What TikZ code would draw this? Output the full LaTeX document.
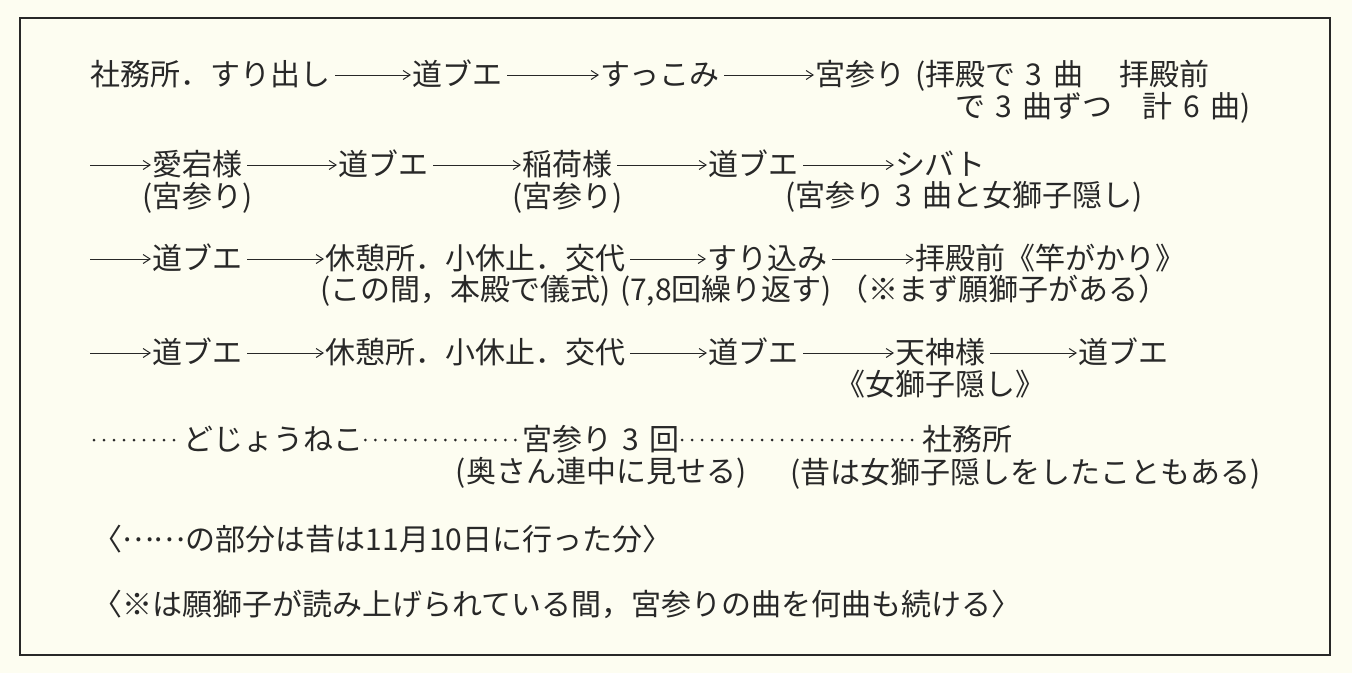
\documentclass[tikz,border=0pt]{standalone}
\usepackage{fontspec}
\setmainfont{Noto Sans CJK JP}
\usetikzlibrary{arrows.meta,positioning}
\definecolor{paper}{RGB}{253,253,241}
\definecolor{ink}{RGB}{40,40,40}
\newcommand{\dsp}{\hspace{0.35em}}
\tikzset{
  word/.style={anchor=west, inner sep=0pt, text height=25.5pt, text depth=3.6pt,
    text=ink, font=\fontsize{30}{36}\selectfont},
  flow/.style={draw=ink, line width=1pt, shorten <=5pt, shorten >=1pt,
    -{Straight Barb[length=7pt,width=9pt]}},
  leader/.style={draw=ink, line width=3pt, line cap=round,
    dash pattern=on 0pt off 10pt, shorten <=2pt, shorten >=3pt}
}
\begin{document}
\begin{tikzpicture}[x=1pt, y=1pt]
\fill[paper] (0,0) rectangle (1352,-673);
\useasboundingbox (0,0) rectangle (1352,-673);
% frame
\draw[ink, line width=1.8pt] (20,-18) rectangle (1330,-655);

% first line
\node[word] (start) at (90,-75) {社務所．すり出し};
\node[word] (michi1) at (412,-75) {道ブエ};
\node[word] (sukkomi) at (600,-75) {すっこみ};
\node[word] (miya1) at (815,-75) {宮参り};
\node[word] (kyoku1) at (915,-75) {(拝殿で\dsp 3\dsp 曲　\hspace{0.2em}拝殿前};
\node[word] (kyoku2) at (955,-107) {で\dsp 3\dsp 曲ずつ　計\dsp 6\dsp 曲)};
\draw[flow] (start.east) -- (michi1.west);
\draw[flow] (michi1.east) -- (sukkomi.west);
\draw[flow] (sukkomi.east) -- (miya1.west);

% second line
\coordinate (in2) at (90,-165);
\node[word] (atago) at (152,-165) {愛宕様};
\node[word] (michi2) at (338,-165) {道ブエ};
\node[word] (inari) at (522,-165) {稲荷様};
\node[word] (michi3) at (708,-165) {道ブエ};
\node[word] (shibato) at (895,-165) {シバト};
\node[word, below=2pt of atago] (atagomiya) {(宮参り)};
\node[word, below=2pt of inari] (inarimiya) {(宮参り)};
\node[word] (shibatomiya) at (785,-196) {(宮参り\dsp 3\dsp 曲と女獅子隠し)};
\draw[flow, shorten <=0pt] (in2) -- (atago.west);
\draw[flow] (atago.east) -- (michi2.west);
\draw[flow] (michi2.east) -- (inari.west);
\draw[flow] (inari.east) -- (michi3.west);
\draw[flow] (michi3.east) -- (shibato.west);

% third line
\coordinate (in3) at (90,-259);
\node[word] (michi4) at (152,-259) {道ブエ};
\node[word] (kyukei1) at (325,-259) {休憩所．小休止．交代};
\node[word] (surikomi) at (707,-259) {すり込み};
\node[word] (haiden) at (915,-259) {拝殿前《竿がかり》};
\node[word] (gishiki) at (320,-290) {(この間，本殿で儀式)};
\node[word] (kurikaesu) at (620,-290) {(7,8回繰り返す)};
\node[word] (negai) at (838,-290) {（※まず願獅子がある）};
\draw[flow, shorten <=0pt] (in3) -- (michi4.west);
\draw[flow] (michi4.east) -- (kyukei1.west);
\draw[flow] (kyukei1.east) -- (surikomi.west);
\draw[flow] (surikomi.east) -- (haiden.west);

% fourth line
\coordinate (in4) at (90,-353);
\node[word] (michi5) at (152,-353) {道ブエ};
\node[word] (kyukei2) at (325,-353) {休憩所．小休止．交代};
\node[word] (michi6) at (708,-353) {道ブエ};
\node[word] (tenjin) at (895,-353) {天神様};
\node[word] (michi7) at (1078,-353) {道ブエ};
\node[word, below=2pt of tenjin] (mejishi) {《女獅子隠し》};
\draw[flow, shorten <=0pt] (in4) -- (michi5.west);
\draw[flow] (michi5.east) -- (kyukei2.west);
\draw[flow] (kyukei2.east) -- (michi6.west);
\draw[flow] (michi6.east) -- (tenjin.west);
\draw[flow] (tenjin.east) -- (michi7.west);

% fifth line (dotted part)
\coordinate (in5) at (92,-440);
\node[word] (dojou) at (183,-440) {どじょうねこ};
\node[word] (miya3) at (522,-440) {宮参り\dsp 3\dsp 回};
\node[word] (shamusho) at (922,-440) {社務所};
\node[word, below=2pt of miya3] (okusan) {(奥さん連中に見せる)};
\node[word] (mukashi) at (790,-473) {(昔は女獅子隠しをしたこともある)};
\draw[leader] (in5) -- (dojou.west);
\draw[leader] (dojou.east) -- (miya3.west);
\draw[leader] (miya3.east) -- (shamusho.west);

% notes
\node[word] (note1) at (92,-540) {〈\raisebox{0.3em}{……}の部分は昔は11月10日に行った分〉};
\node[word] (note2) at (92,-605) {〈※は願獅子が読み上げられている間，宮参りの曲を何曲も続ける〉};
\end{tikzpicture}
\end{document}
